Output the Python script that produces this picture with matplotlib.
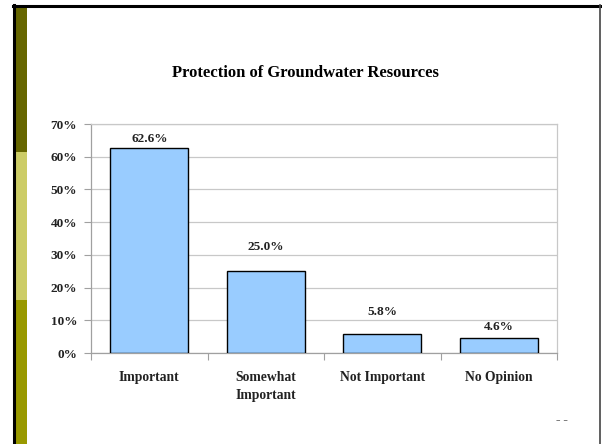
import matplotlib
matplotlib.use("Agg")
import matplotlib.pyplot as plt
from matplotlib.patches import Rectangle
from matplotlib.lines import Line2D

# --- Data ---
categories = ["Important", "Somewhat\nImportant", "Not Important", "No Opinion"]
values = [62.6, 25.0, 5.8, 4.6]
y_ticks = [0, 10, 20, 30, 40, 50, 60, 70]

# label lift above each bar (labels were hand-placed in the original)
label_lift = [2.8, 7.5, 6.7, 3.3]

W, H = 602, 444
plt.rcParams['font.family'] = ['Liberation Serif', 'DejaVu Serif']

fig = plt.figure(figsize=(W / 100, H / 100), dpi=100)
fig.patch.set_facecolor("white")

# --- Slide decoration: left colour strip + frame ---
def fx(px):
    return px / W

def fy(py):
    return 1 - py / H

strip = [(7, 152, "#666600"), (152, 300, "#CCCC66"), (300, 444, "#999900")]
for top, bot, col in strip:
    fig.add_artist(Rectangle((fx(15), fy(bot)), fx(27) - fx(15), fy(top) - fy(bot),
                             transform=fig.transFigure, facecolor=col, edgecolor="none"))
fig.add_artist(Line2D([fx(13.5), fx(13.5)], [fy(5), fy(444)], transform=fig.transFigure,
                      color="black", linewidth=2.2))
fig.add_artist(Line2D([fx(12.5), fx(601)], [fy(6), fy(6)], transform=fig.transFigure,
                      color="black", linewidth=2.2))
fig.add_artist(Line2D([fx(600), fx(600)], [fy(5), fy(444)], transform=fig.transFigure,
                      color="#444444", linewidth=1.2))

# --- Chart ---
ax = fig.add_axes([fx(91), fy(353), fx(557) - fx(91), fy(124) - fy(353)])
x = range(len(categories))
ax.bar(x, values, width=0.67, color="#99CCFF", edgecolor="black", linewidth=1.0, zorder=3)

for xi, v, lift in zip(x, values, label_lift):
    ax.text(xi, v + lift, f"{v:.1f}%", ha="center", va="center", fontsize=9.5,
            fontweight="bold", color="#222222")

ax.set_xlim(-0.5, len(categories) - 0.5)
ax.set_ylim(0, 70)
ax.set_yticks(y_ticks)
ax.set_yticklabels([f"{t}%" for t in y_ticks], fontsize=9.5, fontweight="bold", color="#222222")
ax.yaxis.grid(True, color="#C8C8C8", linewidth=0.9, zorder=0)

# category ticks at boundaries, labels at centres
ax.set_xticks([i - 0.5 for i in range(len(categories) + 1)])
ax.set_xticklabels([])
ax.set_xticks(list(x), minor=True)
ax.set_xticklabels(categories, minor=True, fontsize=9.8, fontweight="bold", color="#222222",
                   linespacing=1.5)
ax.tick_params(axis="x", which="major", length=5, color="#A0A0A0", direction="out")
ax.tick_params(axis="x", which="minor", length=0, pad=13)
ax.tick_params(axis="y", length=5, color="#A0A0A0", pad=5)

for s in ["left", "bottom"]:
    ax.spines[s].set_color("#A0A0A0")
for s in ["top", "right"]:
    ax.spines[s].set_color("#C8C8C8")
for s in ax.spines.values():
    s.set_linewidth(0.9)

fig.text(fx(305), fy(73), "Protection of Groundwater Resources", ha="center", va="center",
         fontsize=12, fontweight="bold")
fig.text(fx(562), fy(420), "\u2013 \u2013", ha="center", va="center", fontsize=6.5,
         color="#555555", family="DejaVu Sans")

fig.savefig("out.png", dpi=100)
